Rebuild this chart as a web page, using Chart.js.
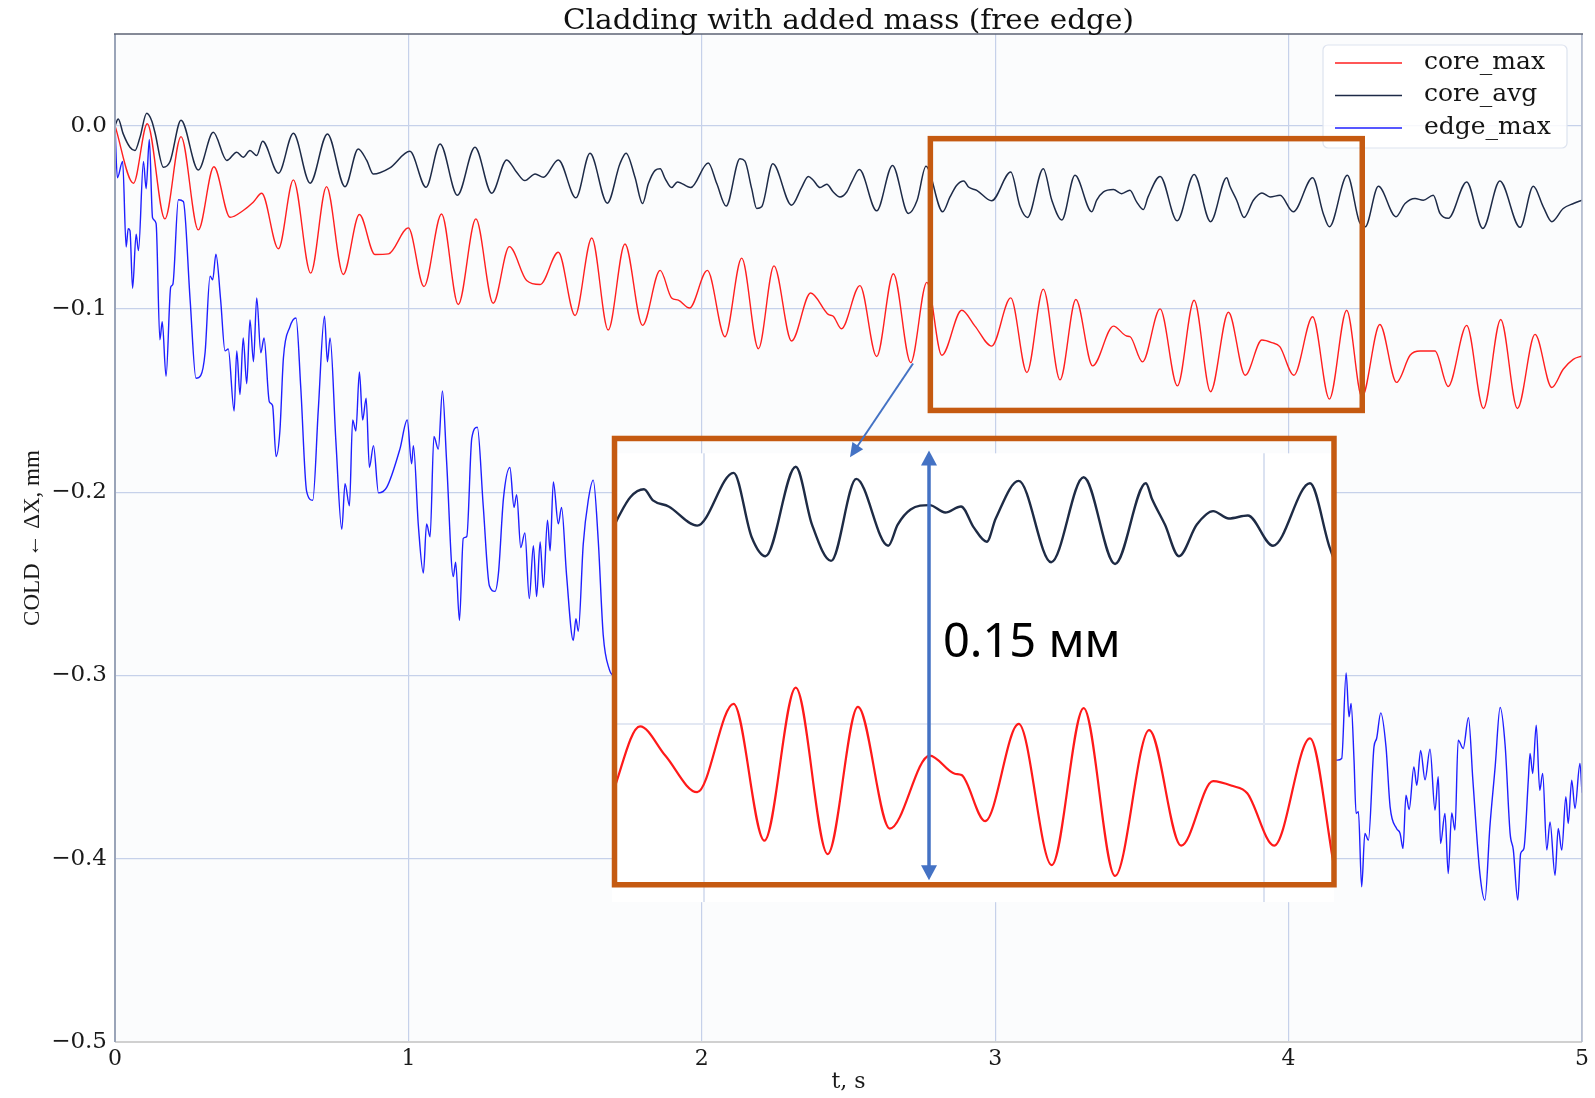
<!DOCTYPE html>
<html>
<head>
<meta charset="utf-8">
<title>Cladding with added mass (free edge)</title>
<script src="https://cdn.jsdelivr.net/npm/chart.js@4.4.1/dist/chart.umd.min.js"></script>
<style>
  html, body { margin: 0; padding: 0; background: #ffffff; }
  #wrap { position: relative; width: 1595px; height: 1098px; }
  #wrap canvas { position: absolute; left: 0; top: 0; }
</style>
</head>
<body>
<div id="wrap">
  <canvas id="main" width="1595" height="1098"></canvas>
  <canvas id="inset" width="1595" height="1098"></canvas>
</div>
<script>
// ---- data (t in s, value in mm) ----
const coreMaxT = [
  0, 0.063, 0.110, 0.170, 0.225, 0.284, 0.337, 0.392, 0.437, 0.471,
  0.500, 0.557, 0.608, 0.667, 0.721, 0.778, 0.833, 0.886, 0.932, 1.000,
  1.053, 1.113, 1.170, 1.230, 1.289, 1.344, 1.403, 1.449, 1.511, 1.568,
  1.625, 1.681, 1.738, 1.798, 1.858, 1.897, 1.920, 1.958, 2.019, 2.079,
  2.136, 2.193, 2.246, 2.306, 2.371, 2.431, 2.448, 2.476, 2.539, 2.596,
  2.653, 2.712, 2.767, 2.818, 2.886, 2.931, 2.988, 3.053, 3.108, 3.164,
  3.221, 3.275, 3.332, 3.403, 3.448, 3.460, 3.502, 3.562, 3.621, 3.678,
  3.734, 3.795, 3.852, 3.909, 3.943, 3.970, 4.018, 4.082, 4.139, 4.198,
  4.250, 4.311, 4.368, 4.414, 4.448, 4.499, 4.544, 4.607, 4.664, 4.723,
  4.780, 4.840, 4.897, 4.936, 4.970, 5.000
];
const coreMaxV = [
  0, -0.0314, 0.001, -0.0509, -0.006, -0.0569, -0.0224, -0.050, -0.0463, -0.0418,
  -0.0369, -0.0672, -0.0296, -0.0805, -0.0333, -0.0812, -0.0485, -0.0703, -0.070, -0.0558,
  -0.0878, -0.0482, -0.0976, -0.0509, -0.0969, -0.066, -0.0845, -0.0867, -0.0691, -0.1036,
  -0.0613, -0.1115, -0.0646, -0.109, -0.079, -0.094, -0.0952, -0.0995, -0.079, -0.1152,
  -0.0723, -0.1217, -0.0765, -0.1175, -0.0913, -0.103, -0.104, -0.1108, -0.0873, -0.126,
  -0.0808, -0.1293, -0.0855, -0.1253, -0.1007, -0.1094, -0.1203, -0.094, -0.1347, -0.0892,
  -0.1387, -0.0949, -0.1311, -0.1094, -0.1148, -0.1152, -0.1289, -0.100, -0.142, -0.0953,
  -0.1452, -0.1018, -0.1362, -0.117, -0.1184, -0.1206, -0.1362, -0.1043, -0.1492, -0.1007,
  -0.148, -0.1085, -0.1401, -0.1253, -0.123, -0.123, -0.1423, -0.109, -0.1543, -0.1058,
  -0.1543, -0.1139, -0.1429, -0.1329, -0.1275, -0.1257
];

const coreAvgT = [
  0, 0.011, 0.028, 0.051, 0.068, 0.085, 0.108, 0.125, 0.136, 0.165,
  0.188, 0.225, 0.284, 0.335, 0.381, 0.415, 0.437, 0.460, 0.483, 0.503,
  0.557, 0.608, 0.665, 0.724, 0.784, 0.829, 0.858, 0.880, 0.937, 1.005,
  1.060, 1.108, 1.167, 1.227, 1.284, 1.335, 1.369, 1.397, 1.432, 1.460,
  1.511, 1.571, 1.619, 1.678, 1.721, 1.742, 1.772, 1.798, 1.818, 1.841,
  1.858, 1.875, 1.897, 1.917, 1.962, 2.022, 2.051, 2.083, 2.130, 2.147,
  2.170, 2.187, 2.204, 2.242, 2.306, 2.340, 2.363, 2.380, 2.403, 2.426,
  2.448, 2.471, 2.494, 2.511, 2.537, 2.596, 2.650, 2.704, 2.734, 2.764,
  2.821, 2.846, 2.869, 2.893, 2.909, 2.937, 2.988, 3.053, 3.085, 3.110,
  3.164, 3.193, 3.227, 3.272, 3.329, 3.346, 3.369, 3.403, 3.431, 3.459,
  3.482, 3.505, 3.521, 3.562, 3.620, 3.678, 3.734, 3.789, 3.800, 3.823,
  3.848, 3.880, 3.909, 3.937, 3.971, 4.016, 4.082, 4.118, 4.139, 4.200,
  4.241, 4.261, 4.306, 4.366, 4.397, 4.431, 4.459, 4.493, 4.516, 4.544,
  4.607, 4.662, 4.720, 4.789, 4.834, 4.868, 4.897, 4.936, 4.971, 5.000
];
const coreAvgV = [
  0, 0.0036, -0.0045, -0.0118, -0.0136, -0.0064, 0.0067, 0.0027, -0.0036, -0.0227,
  -0.0194, 0.003, -0.0242, -0.0036, -0.019, -0.0145, -0.0173, -0.0136, -0.0163, -0.0085,
  -0.026, -0.0042, -0.0314, -0.0045, -0.0333, -0.0127, -0.019, -0.0264, -0.023, -0.014,
  -0.0336, -0.010, -0.038, -0.0118, -0.0369, -0.0187, -0.0255, -0.030, -0.0264, -0.0282,
  -0.0187, -0.0394, -0.0151, -0.0423, -0.0208, -0.015, -0.028, -0.0425, -0.0316, -0.0244,
  -0.0235, -0.0289, -0.0338, -0.0307, -0.0338, -0.0204, -0.0316, -0.0439, -0.0181, -0.0194,
  -0.0344, -0.0452, -0.0443, -0.0208, -0.0434, -0.0338, -0.0277, -0.0298, -0.0338, -0.032,
  -0.0362, -0.0389, -0.0362, -0.0307, -0.024, -0.0465, -0.0217, -0.0479, -0.0407, -0.0222,
  -0.047, -0.0389, -0.0325, -0.0302, -0.0335, -0.0353, -0.041, -0.0253, -0.0443, -0.0501,
  -0.0235, -0.0407, -0.0515, -0.0271, -0.047, -0.0407, -0.0362, -0.0349, -0.0371, -0.0353,
  -0.0416, -0.0458, -0.0389, -0.0277, -0.0519, -0.0266, -0.0524, -0.0284, -0.0331, -0.0407,
  -0.0501, -0.0407, -0.0367, -0.0389, -0.038, -0.047, -0.0284, -0.0479, -0.0552, -0.0271,
  -0.0524, -0.0552, -0.0331, -0.0497, -0.0425, -0.0398, -0.0407, -0.038, -0.0479, -0.0506,
  -0.0307, -0.0561, -0.0302, -0.0555, -0.0331, -0.0443, -0.0524, -0.0452, -0.0425, -0.0407
];

// edge_max is hidden under the inset between ~1.70 s and ~4.16 s
const edgeMaxT = [
  0, 0.008, 0.026, 0.038, 0.045, 0.051, 0.060, 0.072, 0.080, 0.097,
  0.106, 0.117, 0.128, 0.140, 0.153, 0.161, 0.174, 0.190, 0.197, 0.216,
  0.233, 0.256, 0.276, 0.292, 0.307, 0.324, 0.333, 0.344, 0.360, 0.375,
  0.386, 0.406, 0.415, 0.426, 0.437, 0.449, 0.460, 0.472, 0.483, 0.497,
  0.508, 0.526, 0.537, 0.549, 0.562, 0.574, 0.596, 0.617, 0.633, 0.653,
  0.674, 0.693, 0.714, 0.724, 0.733, 0.753, 0.773, 0.784, 0.799, 0.810,
  0.821, 0.833, 0.844, 0.856, 0.867, 0.881, 0.898, 0.926, 0.971, 0.996,
  1.011, 1.017, 1.034, 1.051, 1.062, 1.074, 1.087, 1.102, 1.116, 1.130,
  1.153, 1.161, 1.174, 1.187, 1.199, 1.216, 1.235, 1.255, 1.276, 1.295,
  1.307, 1.324, 1.346, 1.360, 1.369, 1.383, 1.397, 1.412, 1.426, 1.437,
  1.449, 1.460, 1.474, 1.483, 1.494, 1.511, 1.522, 1.539, 1.562, 1.571,
  1.579, 1.596, 1.613, 1.630, 1.647, 1.664, 1.685, 1.700, 4.166, 4.181,
  4.196, 4.206, 4.213, 4.223, 4.230, 4.238, 4.249, 4.260, 4.272, 4.291,
  4.300, 4.314, 4.332, 4.346, 4.368, 4.380, 4.390, 4.400, 4.411, 4.427,
  4.437, 4.450, 4.465, 4.482, 4.499, 4.510, 4.518, 4.533, 4.544, 4.556,
  4.567, 4.578, 4.595, 4.613, 4.628, 4.652, 4.669, 4.686, 4.704, 4.721,
  4.738, 4.755, 4.766, 4.781, 4.791, 4.802, 4.817, 4.823, 4.832, 4.844,
  4.856, 4.866, 4.880, 4.891, 4.908, 4.919, 4.931, 4.945, 4.953, 4.965,
  4.976, 4.993, 5.000
];
const edgeMaxV = [
  0, -0.0284, -0.0195, -0.0662, -0.0563, -0.0573, -0.0887, -0.0592, -0.0682, -0.0195,
  -0.0344, -0.0076, -0.0503, -0.0533, -0.1169, -0.107, -0.1368, -0.088, -0.0867, -0.0404,
  -0.0414, -0.095, -0.1378, -0.1364, -0.1239, -0.0821, -0.0841, -0.0702, -0.095, -0.1229,
  -0.1219, -0.1557, -0.1229, -0.1467, -0.1159, -0.1408, -0.106, -0.1288, -0.094, -0.1239,
  -0.1159, -0.1507, -0.1527, -0.1805, -0.1666, -0.1268, -0.1099, -0.105, -0.1425, -0.1994,
  -0.2044, -0.1547, -0.104, -0.1288, -0.1159, -0.1726, -0.2203, -0.1954, -0.2074, -0.1606,
  -0.1666, -0.1344, -0.1606, -0.1487, -0.1865, -0.1746, -0.2004, -0.1974, -0.1765, -0.1606,
  -0.1845, -0.1746, -0.2183, -0.2441, -0.2173, -0.2243, -0.1696, -0.1765, -0.1447, -0.1825,
  -0.2461, -0.2382, -0.270, -0.2252, -0.2242, -0.1706, -0.1646, -0.2074, -0.2511, -0.2541,
  -0.2441, -0.2034, -0.1865, -0.2083, -0.2014, -0.2302, -0.2222, -0.258, -0.2292, -0.257,
  -0.2272, -0.2521, -0.2153, -0.232, -0.1944, -0.2173, -0.2083, -0.2451, -0.2809, -0.269,
  -0.2759, -0.2282, -0.2044, -0.1934, -0.2262, -0.2779, -0.2968, -0.300, -0.3462, -0.3453,
  -0.2986, -0.3226, -0.3153, -0.3462, -0.3753, -0.3744, -0.4153, -0.3862, -0.3899, -0.339,
  -0.3344, -0.3204, -0.339, -0.3717, -0.3835, -0.3862, -0.3944, -0.3653, -0.3731, -0.3499,
  -0.3599, -0.3409, -0.3569, -0.3402, -0.3735, -0.3553, -0.3917, -0.3753, -0.4081, -0.375,
  -0.3844, -0.3353, -0.3399, -0.323, -0.357, -0.4081, -0.4226, -0.3826, -0.3499, -0.3175,
  -0.3381, -0.3862, -0.3953, -0.4226, -0.3971, -0.3944, -0.3571, -0.3426, -0.3535, -0.3271,
  -0.3626, -0.3535, -0.3953, -0.3799, -0.409, -0.3835, -0.3953, -0.3662, -0.3808, -0.3571,
  -0.3726, -0.348, -0.364
];

const seriesLabels = ['core_max', 'core_avg', 'edge_max'];
const xTicks = [0, 1, 2, 3, 4, 5];
const xTickLabels = ['0', '1', '2', '3', '4', '5'];
const yTicks = [-0.5, -0.4, -0.3, -0.2, -0.1, 0.0];
const yTickLabels = ['\u22120.5', '\u22120.4', '\u22120.3', '\u22120.2', '\u22120.1', '0.0'];
const insetXTicks = [3, 4];
const insetYTicks = [-0.1];

// ---- annotation geometry, in the main chart's data units ----
const zoomBox   = { t0: 2.779, t1: 4.251, v0: -0.0071, v1: -0.1554 };
const insetArea = { t0: 1.694, t1: 4.155, v0: -0.1788, v1: -0.4237 };  // white zoom picture
const insetFrame = { t0: 1.7025, t1: 4.1547, v0: -0.1707, v1: -0.4142 };
const insetRange = { t0: 2.836, t1: 4.125, v0: -0.0195, v1: -0.1530 }; // what the zoom shows
const pointer   = { t0: 2.720, v0: -0.1298, t1: 2.505, v1: -0.1810 };
const spanArrow = { t: 2.7744, v0: -0.1772, v1: -0.4117 };
const spanNote  = { t: 2.822, v: -0.290, text: '0.15 мм' };

const colors = { core_max: '#ff1f1f', core_avg: '#1d2a47', edge_max: '#1f1fff' };
const orange = '#c55a11';
const arrowBlue = '#4472c4';
const titleText = 'Cladding with added mass (free edge)';
const titleWidth = 571;

const pts = (ts, vs) => ts.map((t, i) => ({ x: t, y: vs[i] }));
const coreMaxPts = pts(coreMaxT, coreMaxV);
const coreAvgPts = pts(coreAvgT, coreAvgV);
const edgeMaxPts = pts(edgeMaxT, edgeMaxV);

function arrowHead(ctx, x0, y0, x1, y1, len, half) {
  const a = Math.atan2(y1 - y0, x1 - x0);
  const bx = x1 - len * Math.cos(a), by = y1 - len * Math.sin(a);
  ctx.beginPath();
  ctx.moveTo(x1, y1);
  ctx.lineTo(bx + half * Math.sin(a), by - half * Math.cos(a));
  ctx.lineTo(bx - half * Math.sin(a), by + half * Math.cos(a));
  ctx.closePath();
  ctx.fill();
}

// background, frame, title and legend of the main plot
const mainDecor = {
  id: 'mainDecor',
  beforeDraw(chart) {
    const { ctx, chartArea: a } = chart;
    ctx.save();
    ctx.fillStyle = '#fbfcfd';
    ctx.fillRect(a.left, a.top, a.right - a.left, a.bottom - a.top);
    ctx.restore();
  },
  afterDraw(chart) {
    const { ctx, chartArea: a } = chart;
    ctx.save();
    // frame
    ctx.lineWidth = 2;
    ctx.strokeStyle = '#d0d0d0';
    ctx.beginPath(); ctx.moveTo(a.left, a.bottom); ctx.lineTo(a.right, a.bottom); ctx.stroke();
    ctx.strokeStyle = '#9aa4b8';
    ctx.beginPath(); ctx.moveTo(a.left, a.top); ctx.lineTo(a.left, a.bottom); ctx.stroke();
    ctx.lineWidth = 1.5;
    ctx.strokeStyle = '#b2bacb';
    ctx.beginPath(); ctx.moveTo(a.right, a.top); ctx.lineTo(a.right, a.bottom); ctx.stroke();
    ctx.strokeStyle = '#5c6374';
    ctx.beginPath(); ctx.moveTo(a.left - 1, a.top); ctx.lineTo(a.right + 1, a.top); ctx.stroke();

    // title, stretched sideways like the source figure
    ctx.fillStyle = '#111111';
    ctx.font = '27px "DejaVu Serif"';
    ctx.textAlign = 'center';
    ctx.textBaseline = 'alphabetic';
    const tw = ctx.measureText(titleText).width;
    ctx.save();
    ctx.translate((a.left + a.right) / 2, 29);
    ctx.scale(titleWidth / tw, 1);
    ctx.fillText(titleText, 0, 0);
    ctx.restore();

    // legend
    const lx = a.right - 259, ly = a.top + 11, lw = 244, lh = 103;
    ctx.fillStyle = 'rgba(255,255,255,0.85)';
    ctx.strokeStyle = '#dde3ef';
    ctx.lineWidth = 1.2;
    ctx.beginPath();
    ctx.roundRect(lx, ly, lw, lh, 5);
    ctx.fill(); ctx.stroke();
    ctx.font = '25px "DejaVu Serif"';
    ctx.textAlign = 'left';
    ctx.textBaseline = 'middle';
    chart.data.datasets.forEach((ds, i) => {
      const y = ly + 18 + i * 32.5;
      ctx.strokeStyle = ds.borderColor;
      ctx.lineWidth = 1.3;
      ctx.beginPath(); ctx.moveTo(lx + 12, y); ctx.lineTo(lx + 79, y); ctx.stroke();
      ctx.fillStyle = '#151515';
      ctx.fillText(ds.label, lx + 101, y - 1);
    });
    ctx.restore();
  }
};

const mainChart = new Chart(document.getElementById('main'), {
  type: 'line',
  data: {
    datasets: [
      { label: seriesLabels[0], data: coreMaxPts, borderColor: colors.core_max, borderWidth: 1.4 },
      { label: seriesLabels[1], data: coreAvgPts, borderColor: colors.core_avg, borderWidth: 1.5 },
      { label: seriesLabels[2], data: edgeMaxPts, borderColor: colors.edge_max, borderWidth: 1.4 }
    ]
  },
  options: {
    responsive: false,
    animation: false,
    events: [],
    layout: { padding: { top: 34, right: 13, left: 0, bottom: 0 } },
    elements: {
      point: { radius: 0 },
      line: { cubicInterpolationMode: 'monotone', fill: false }
    },
    plugins: { legend: { display: false }, tooltip: { enabled: false } },
    scales: {
      x: {
        type: 'linear', min: 0, max: 5,
        afterBuildTicks: s => { s.ticks = xTicks.map(v => ({ value: v })); },
        afterFit: s => { s.height = 56; },
        grid: { color: '#c6d1ea', lineWidth: 1.2, drawTicks: false },
        border: { display: false },
        ticks: {
          callback: (v, i) => xTickLabels[i],
          font: { family: 'DejaVu Serif', size: 22 }, color: '#1a1a1a',
          padding: 4, maxRotation: 0, autoSkip: false
        },
        title: {
          display: true, text: 't, s', color: '#1a1a1a',
          font: { family: 'DejaVu Serif', size: 22 }, padding: { top: 0, bottom: 3 }
        }
      },
      y: {
        type: 'linear', min: -0.5, max: 0.05,
        afterBuildTicks: s => { s.ticks = yTicks.map(v => ({ value: v })); },
        afterFit: s => { s.width = 115; },
        grid: { color: '#c6d1ea', lineWidth: 1.2, drawTicks: false },
        border: { display: false },
        ticks: {
          callback: (v, i) => yTickLabels[i],
          font: { family: 'DejaVu Serif', size: 23 }, color: '#1a1a1a',
          padding: 8, autoSkip: false
        },
        title: {
          display: true, text: 'COLD \u2190 \u0394X, mm', color: '#1a1a1a',
          font: { family: 'Liberation Serif', size: 23 }, padding: { top: 19, bottom: 0 }
        }
      }
    }
  },
  plugins: [mainDecor]
});

// overlay: the zoomed picture, the orange frames, arrows and the note
const sx = mainChart.scales.x, sy = mainChart.scales.y;
const px = t => sx.getPixelForValue(t);
const py = v => sy.getPixelForValue(v);

const insetDecor = {
  id: 'insetDecor',
  beforeDraw(chart) {
    const { ctx, chartArea: a } = chart;
    ctx.save();
    ctx.fillStyle = '#ffffff';
    ctx.fillRect(a.left, a.top, a.right - a.left, a.bottom - a.top);
    ctx.restore();
  },
  afterDraw(chart) {
    const ctx = chart.ctx;
    ctx.save();
    ctx.strokeStyle = orange;
    ctx.lineWidth = 5.5;
    ctx.strokeRect(px(zoomBox.t0), py(zoomBox.v0), px(zoomBox.t1) - px(zoomBox.t0), py(zoomBox.v1) - py(zoomBox.v0));
    ctx.strokeRect(px(insetFrame.t0), py(insetFrame.v0), px(insetFrame.t1) - px(insetFrame.t0), py(insetFrame.v1) - py(insetFrame.v0));

    // pointer from the small box to the zoom
    const x0 = px(pointer.t0), y0 = py(pointer.v0), x1 = px(pointer.t1), y1 = py(pointer.v1);
    const a = Math.atan2(y1 - y0, x1 - x0);
    ctx.strokeStyle = arrowBlue; ctx.fillStyle = arrowBlue;
    ctx.lineWidth = 2;
    ctx.beginPath(); ctx.moveTo(x0, y0); ctx.lineTo(x1 - 10 * Math.cos(a), y1 - 10 * Math.sin(a)); ctx.stroke();
    arrowHead(ctx, x0, y0, x1, y1, 14, 6.5);

    // double arrow for the 0.15 mm span
    const ax = px(spanArrow.t), ay0 = py(spanArrow.v0), ay1 = py(spanArrow.v1);
    ctx.lineWidth = 3.5;
    ctx.beginPath(); ctx.moveTo(ax, ay0 + 12); ctx.lineTo(ax, ay1 - 12); ctx.stroke();
    arrowHead(ctx, ax, ay1, ax, ay0, 15, 8);
    arrowHead(ctx, ax, ay0, ax, ay1, 15, 8);

    ctx.fillStyle = '#000000';
    ctx.font = '47px "Noto Sans"';
    ctx.textAlign = 'left';
    ctx.textBaseline = 'alphabetic';
    ctx.fillText(spanNote.text, px(spanNote.t), py(spanNote.v));
    ctx.restore();
  }
};

const insetChart = new Chart(document.getElementById('inset'), {
  type: 'line',
  data: {
    datasets: [
      { label: seriesLabels[0], data: coreMaxPts, borderColor: '#ff1a1a', borderWidth: 2.2 },
      { label: seriesLabels[1], data: coreAvgPts, borderColor: '#1e2b45', borderWidth: 2.4 }
    ]
  },
  options: {
    responsive: false,
    animation: false,
    events: [],
    layout: {
      padding: {
        left: px(insetArea.t0), top: py(insetArea.v0),
        right: 1595 - px(insetArea.t1), bottom: 1098 - py(insetArea.v1)
      }
    },
    elements: {
      point: { radius: 0 },
      line: { cubicInterpolationMode: 'monotone', fill: false }
    },
    plugins: { legend: { display: false }, tooltip: { enabled: false } },
    scales: {
      x: {
        type: 'linear', min: insetRange.t0, max: insetRange.t1,
        afterBuildTicks: s => { s.ticks = insetXTicks.map(v => ({ value: v })); },
        afterFit: s => { s.height = 0; },
        ticks: { display: false },
        grid: { color: '#dbe2f1', lineWidth: 2, drawTicks: false },
        border: { display: false }
      },
      y: {
        type: 'linear', min: insetRange.v1, max: insetRange.v0,
        afterBuildTicks: s => { s.ticks = insetYTicks.map(v => ({ value: v })); },
        afterFit: s => { s.width = 0; },
        ticks: { display: false },
        grid: { color: '#e3e8f3', lineWidth: 2, drawTicks: false },
        border: { display: false }
      }
    }
  },
  plugins: [insetDecor]
});
</script>
</body>
</html>
